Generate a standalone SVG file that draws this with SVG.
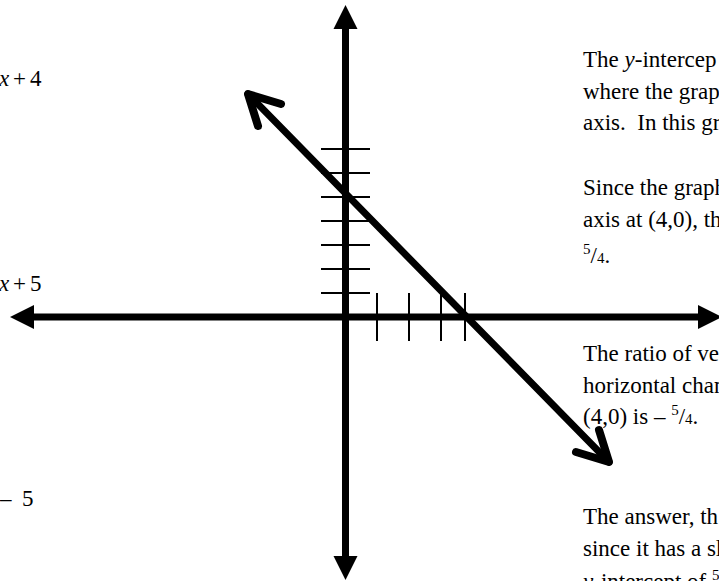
<svg xmlns="http://www.w3.org/2000/svg" width="719" height="581" viewBox="0 0 719 581">
<style>
text{font-family:"Liberation Serif","Times New Roman",serif;font-size:23px;fill:#000}
.i{font-style:italic}
.s{font-size:15px}
.axis{stroke:#000;stroke-width:7;fill:none}
.tick{stroke:#000;stroke-width:2}
.line{stroke:#000;stroke-width:7;stroke-linecap:round;fill:none}
.arm{stroke:#000;stroke-width:8;stroke-linecap:round;stroke-linejoin:round;fill:none}
.head{fill:#000}
</style>
<rect width="719" height="581" fill="#fff"/>
<g id="left-labels">
<text y="86"><tspan class="i" x="-1">x</tspan><tspan x="13">+</tspan><tspan x="30">4</tspan></text>
<text y="291"><tspan class="i" x="-1">x</tspan><tspan x="13">+</tspan><tspan x="30">5</tspan></text>
<text y="506"><tspan x="0">–</tspan><tspan x="22">5</tspan></text>
</g>
<g id="explanation">
<text x="583" y="67">The <tspan class="i">y</tspan>-intercep</text>
<text x="583" y="98.5">where the grap</text>
<text x="583" y="130" xml:space="preserve">axis.  In this gr</text>
<text x="583" y="195">Since the graph</text>
<text x="583" y="226.5">axis at (4,0), th</text>
<text x="583" y="263"><tspan class="s" dy="-9">5</tspan><tspan dy="9">/</tspan><tspan class="s">4</tspan>.</text>
<text x="583" y="361">The ratio of ve</text>
<text x="583" y="392.5">horizontal chan</text>
<text x="583" y="424">(4,0) is – <tspan class="s" dy="-9">5</tspan><tspan dy="9">/</tspan><tspan class="s">4</tspan>.</text>
<text x="583" y="524">The answer, th</text>
<text x="583" y="555.5">since it has a sl</text>
<text x="583" y="589"><tspan class="i">y</tspan>-intercept of <tspan class="s" dy="-9">5</tspan></text>
</g>
<g id="axes">
<line class="axis" x1="345.5" y1="26" x2="345.5" y2="558"/>
<polygon class="head" points="345.5,5 333.5,29 357.5,29"/>
<polygon class="head" points="345.5,580 333.5,556 357.5,556"/>
<line class="axis" x1="31" y1="317" x2="700" y2="317"/>
<polygon class="head" points="10,317 34,305 34,329"/>
<polygon class="head" points="722,317 698,305 698,329"/>
</g>
<g id="ticks">
<line class="tick" x1="321" y1="149" x2="370" y2="149"/>
<line class="tick" x1="321" y1="173" x2="370" y2="173"/>
<line class="tick" x1="321" y1="197" x2="370" y2="197"/>
<line class="tick" x1="321" y1="221" x2="370" y2="221"/>
<line class="tick" x1="321" y1="245" x2="370" y2="245"/>
<line class="tick" x1="321" y1="269" x2="370" y2="269"/>
<line class="tick" x1="321" y1="293" x2="370" y2="293"/>
<line class="tick" x1="377" y1="293" x2="377" y2="341"/>
<line class="tick" x1="409" y1="293" x2="409" y2="341"/>
<line class="tick" x1="441" y1="293" x2="441" y2="341"/>
<line class="tick" x1="465" y1="293" x2="465" y2="341"/>
</g>
<g id="connectors">
<line class="line" x1="248" y1="94" x2="609" y2="462"/>
<polyline class="arm" points="281,104 248,94 258,126"/>
<polyline class="arm" points="576,452 609,462 599,430"/>
</g>
</svg>
